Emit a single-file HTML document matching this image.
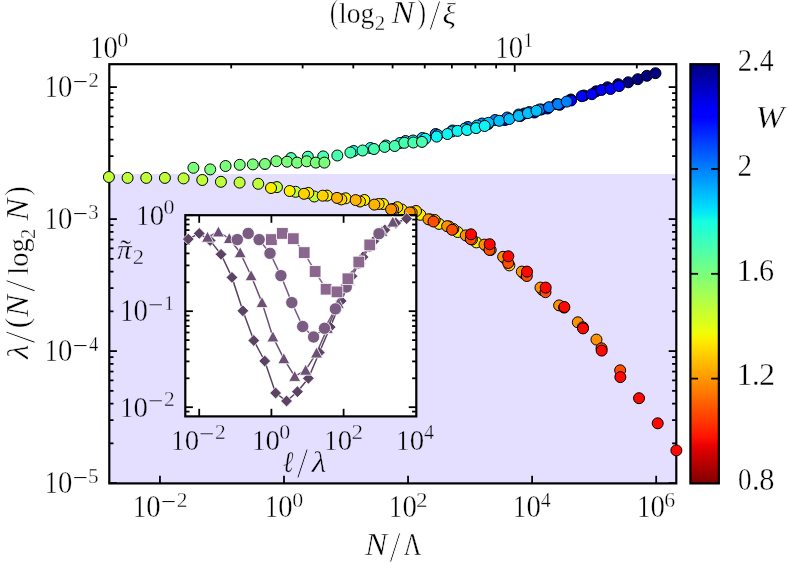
<!DOCTYPE html>
<html><head><meta charset="utf-8"><title>figure</title>
<style>html,body{margin:0;padding:0;background:#fff}svg{display:block;will-change:transform}text{font-family:"Liberation Serif",serif;font-kerning:none}</style>
</head><body>
<svg width="789" height="567" viewBox="0 0 789 567">
<defs><linearGradient id="cb" x1="0" y1="0" x2="0" y2="1"><stop offset="0.0000" stop-color="#000080"/><stop offset="0.0156" stop-color="#000092"/><stop offset="0.0312" stop-color="#0000a4"/><stop offset="0.0469" stop-color="#0000b6"/><stop offset="0.0625" stop-color="#0000c8"/><stop offset="0.0781" stop-color="#0000da"/><stop offset="0.0938" stop-color="#0000ec"/><stop offset="0.1094" stop-color="#0000fe"/><stop offset="0.1250" stop-color="#0000ff"/><stop offset="0.1406" stop-color="#0010ff"/><stop offset="0.1562" stop-color="#0020ff"/><stop offset="0.1719" stop-color="#0030ff"/><stop offset="0.1875" stop-color="#0040ff"/><stop offset="0.2031" stop-color="#0050ff"/><stop offset="0.2188" stop-color="#0060ff"/><stop offset="0.2344" stop-color="#0070ff"/><stop offset="0.2500" stop-color="#0080ff"/><stop offset="0.2656" stop-color="#008fff"/><stop offset="0.2812" stop-color="#009fff"/><stop offset="0.2969" stop-color="#00afff"/><stop offset="0.3125" stop-color="#00bfff"/><stop offset="0.3281" stop-color="#00cfff"/><stop offset="0.3438" stop-color="#00dffc"/><stop offset="0.3594" stop-color="#08efef"/><stop offset="0.3750" stop-color="#15ffe2"/><stop offset="0.3906" stop-color="#21ffd5"/><stop offset="0.4062" stop-color="#2effc9"/><stop offset="0.4219" stop-color="#3bffbc"/><stop offset="0.4375" stop-color="#48ffaf"/><stop offset="0.4531" stop-color="#55ffa2"/><stop offset="0.4688" stop-color="#62ff95"/><stop offset="0.4844" stop-color="#6fff88"/><stop offset="0.5000" stop-color="#7bff7b"/><stop offset="0.5156" stop-color="#88ff6f"/><stop offset="0.5312" stop-color="#95ff62"/><stop offset="0.5469" stop-color="#a2ff55"/><stop offset="0.5625" stop-color="#afff48"/><stop offset="0.5781" stop-color="#bcff3b"/><stop offset="0.5938" stop-color="#c9ff2e"/><stop offset="0.6094" stop-color="#d5ff21"/><stop offset="0.6250" stop-color="#e2ff15"/><stop offset="0.6406" stop-color="#effe08"/><stop offset="0.6562" stop-color="#fcf000"/><stop offset="0.6719" stop-color="#ffe100"/><stop offset="0.6875" stop-color="#ffd200"/><stop offset="0.7031" stop-color="#ffc300"/><stop offset="0.7188" stop-color="#ffb500"/><stop offset="0.7344" stop-color="#ffa600"/><stop offset="0.7500" stop-color="#ff9700"/><stop offset="0.7656" stop-color="#ff8800"/><stop offset="0.7812" stop-color="#ff7a00"/><stop offset="0.7969" stop-color="#ff6b00"/><stop offset="0.8125" stop-color="#ff5c00"/><stop offset="0.8281" stop-color="#ff4d00"/><stop offset="0.8438" stop-color="#ff3f00"/><stop offset="0.8594" stop-color="#ff3000"/><stop offset="0.8750" stop-color="#ff2100"/><stop offset="0.8906" stop-color="#fe1200"/><stop offset="0.9062" stop-color="#ec0400"/><stop offset="0.9219" stop-color="#da0000"/><stop offset="0.9375" stop-color="#c80000"/><stop offset="0.9531" stop-color="#b60000"/><stop offset="0.9688" stop-color="#a40000"/><stop offset="0.9844" stop-color="#920000"/><stop offset="1.0000" stop-color="#800000"/></linearGradient></defs>
<rect x="0" y="0" width="789" height="567" fill="#fff"/>
<rect x="109.3" y="174.0" width="567.0" height="309.4" fill="#e4dfff"/>
<rect x="109.3" y="64.2" width="567.0" height="419.2" fill="none" stroke="#000" stroke-width="2.2"/>
<line x1="159.94" y1="483.40" x2="159.94" y2="475.80" stroke="#000" stroke-width="1.8"/>
<line x1="284.00" y1="483.40" x2="284.00" y2="475.80" stroke="#000" stroke-width="1.8"/>
<line x1="408.06" y1="483.40" x2="408.06" y2="475.80" stroke="#000" stroke-width="1.8"/>
<line x1="532.12" y1="483.40" x2="532.12" y2="475.80" stroke="#000" stroke-width="1.8"/>
<line x1="656.18" y1="483.40" x2="656.18" y2="475.80" stroke="#000" stroke-width="1.8"/>
<line x1="231.20" y1="64.20" x2="231.20" y2="68.40" stroke="#000" stroke-width="1.8"/>
<line x1="302.62" y1="64.20" x2="302.62" y2="68.40" stroke="#000" stroke-width="1.8"/>
<line x1="353.30" y1="64.20" x2="353.30" y2="68.40" stroke="#000" stroke-width="1.8"/>
<line x1="392.60" y1="64.20" x2="392.60" y2="68.40" stroke="#000" stroke-width="1.8"/>
<line x1="424.72" y1="64.20" x2="424.72" y2="68.40" stroke="#000" stroke-width="1.8"/>
<line x1="451.87" y1="64.20" x2="451.87" y2="68.40" stroke="#000" stroke-width="1.8"/>
<line x1="475.39" y1="64.20" x2="475.39" y2="68.40" stroke="#000" stroke-width="1.8"/>
<line x1="496.14" y1="64.20" x2="496.14" y2="68.40" stroke="#000" stroke-width="1.8"/>
<line x1="514.70" y1="64.20" x2="514.70" y2="71.80" stroke="#000" stroke-width="1.8"/>
<line x1="636.80" y1="64.20" x2="636.80" y2="68.40" stroke="#000" stroke-width="1.8"/>
<line x1="109.30" y1="483.10" x2="116.90" y2="483.10" stroke="#000" stroke-width="1.8"/>
<line x1="676.30" y1="483.10" x2="668.70" y2="483.10" stroke="#000" stroke-width="1.8"/>
<line x1="109.30" y1="443.36" x2="113.50" y2="443.36" stroke="#000" stroke-width="1.8"/>
<line x1="676.30" y1="443.36" x2="672.10" y2="443.36" stroke="#000" stroke-width="1.8"/>
<line x1="109.30" y1="420.12" x2="113.50" y2="420.12" stroke="#000" stroke-width="1.8"/>
<line x1="676.30" y1="420.12" x2="672.10" y2="420.12" stroke="#000" stroke-width="1.8"/>
<line x1="109.30" y1="403.63" x2="113.50" y2="403.63" stroke="#000" stroke-width="1.8"/>
<line x1="676.30" y1="403.63" x2="672.10" y2="403.63" stroke="#000" stroke-width="1.8"/>
<line x1="109.30" y1="390.84" x2="113.50" y2="390.84" stroke="#000" stroke-width="1.8"/>
<line x1="676.30" y1="390.84" x2="672.10" y2="390.84" stroke="#000" stroke-width="1.8"/>
<line x1="109.30" y1="380.38" x2="113.50" y2="380.38" stroke="#000" stroke-width="1.8"/>
<line x1="676.30" y1="380.38" x2="672.10" y2="380.38" stroke="#000" stroke-width="1.8"/>
<line x1="109.30" y1="371.55" x2="113.50" y2="371.55" stroke="#000" stroke-width="1.8"/>
<line x1="676.30" y1="371.55" x2="672.10" y2="371.55" stroke="#000" stroke-width="1.8"/>
<line x1="109.30" y1="363.89" x2="113.50" y2="363.89" stroke="#000" stroke-width="1.8"/>
<line x1="676.30" y1="363.89" x2="672.10" y2="363.89" stroke="#000" stroke-width="1.8"/>
<line x1="109.30" y1="357.14" x2="113.50" y2="357.14" stroke="#000" stroke-width="1.8"/>
<line x1="676.30" y1="357.14" x2="672.10" y2="357.14" stroke="#000" stroke-width="1.8"/>
<line x1="109.30" y1="351.10" x2="116.90" y2="351.10" stroke="#000" stroke-width="1.8"/>
<line x1="676.30" y1="351.10" x2="668.70" y2="351.10" stroke="#000" stroke-width="1.8"/>
<line x1="109.30" y1="311.36" x2="113.50" y2="311.36" stroke="#000" stroke-width="1.8"/>
<line x1="676.30" y1="311.36" x2="672.10" y2="311.36" stroke="#000" stroke-width="1.8"/>
<line x1="109.30" y1="288.12" x2="113.50" y2="288.12" stroke="#000" stroke-width="1.8"/>
<line x1="676.30" y1="288.12" x2="672.10" y2="288.12" stroke="#000" stroke-width="1.8"/>
<line x1="109.30" y1="271.63" x2="113.50" y2="271.63" stroke="#000" stroke-width="1.8"/>
<line x1="676.30" y1="271.63" x2="672.10" y2="271.63" stroke="#000" stroke-width="1.8"/>
<line x1="109.30" y1="258.84" x2="113.50" y2="258.84" stroke="#000" stroke-width="1.8"/>
<line x1="676.30" y1="258.84" x2="672.10" y2="258.84" stroke="#000" stroke-width="1.8"/>
<line x1="109.30" y1="248.38" x2="113.50" y2="248.38" stroke="#000" stroke-width="1.8"/>
<line x1="676.30" y1="248.38" x2="672.10" y2="248.38" stroke="#000" stroke-width="1.8"/>
<line x1="109.30" y1="239.55" x2="113.50" y2="239.55" stroke="#000" stroke-width="1.8"/>
<line x1="676.30" y1="239.55" x2="672.10" y2="239.55" stroke="#000" stroke-width="1.8"/>
<line x1="109.30" y1="231.89" x2="113.50" y2="231.89" stroke="#000" stroke-width="1.8"/>
<line x1="676.30" y1="231.89" x2="672.10" y2="231.89" stroke="#000" stroke-width="1.8"/>
<line x1="109.30" y1="225.14" x2="113.50" y2="225.14" stroke="#000" stroke-width="1.8"/>
<line x1="676.30" y1="225.14" x2="672.10" y2="225.14" stroke="#000" stroke-width="1.8"/>
<line x1="109.30" y1="219.10" x2="116.90" y2="219.10" stroke="#000" stroke-width="1.8"/>
<line x1="676.30" y1="219.10" x2="668.70" y2="219.10" stroke="#000" stroke-width="1.8"/>
<line x1="109.30" y1="179.36" x2="113.50" y2="179.36" stroke="#000" stroke-width="1.8"/>
<line x1="676.30" y1="179.36" x2="672.10" y2="179.36" stroke="#000" stroke-width="1.8"/>
<line x1="109.30" y1="156.12" x2="113.50" y2="156.12" stroke="#000" stroke-width="1.8"/>
<line x1="676.30" y1="156.12" x2="672.10" y2="156.12" stroke="#000" stroke-width="1.8"/>
<line x1="109.30" y1="139.63" x2="113.50" y2="139.63" stroke="#000" stroke-width="1.8"/>
<line x1="676.30" y1="139.63" x2="672.10" y2="139.63" stroke="#000" stroke-width="1.8"/>
<line x1="109.30" y1="126.84" x2="113.50" y2="126.84" stroke="#000" stroke-width="1.8"/>
<line x1="676.30" y1="126.84" x2="672.10" y2="126.84" stroke="#000" stroke-width="1.8"/>
<line x1="109.30" y1="116.38" x2="113.50" y2="116.38" stroke="#000" stroke-width="1.8"/>
<line x1="676.30" y1="116.38" x2="672.10" y2="116.38" stroke="#000" stroke-width="1.8"/>
<line x1="109.30" y1="107.55" x2="113.50" y2="107.55" stroke="#000" stroke-width="1.8"/>
<line x1="676.30" y1="107.55" x2="672.10" y2="107.55" stroke="#000" stroke-width="1.8"/>
<line x1="109.30" y1="99.89" x2="113.50" y2="99.89" stroke="#000" stroke-width="1.8"/>
<line x1="676.30" y1="99.89" x2="672.10" y2="99.89" stroke="#000" stroke-width="1.8"/>
<line x1="109.30" y1="93.14" x2="113.50" y2="93.14" stroke="#000" stroke-width="1.8"/>
<line x1="676.30" y1="93.14" x2="672.10" y2="93.14" stroke="#000" stroke-width="1.8"/>
<line x1="109.30" y1="87.10" x2="116.90" y2="87.10" stroke="#000" stroke-width="1.8"/>
<line x1="676.30" y1="87.10" x2="668.70" y2="87.10" stroke="#000" stroke-width="1.8"/>
<circle cx="524.50" cy="113.50" r="5.5" fill="#000080" stroke="#000" stroke-width="1"/>
<circle cx="541.33" cy="109.50" r="5.5" fill="#000080" stroke="#000" stroke-width="1"/>
<circle cx="556.69" cy="104.00" r="5.5" fill="#000080" stroke="#000" stroke-width="1"/>
<circle cx="570.82" cy="99.50" r="5.5" fill="#000080" stroke="#000" stroke-width="1"/>
<circle cx="583.90" cy="95.50" r="5.5" fill="#000080" stroke="#000" stroke-width="1"/>
<circle cx="596.08" cy="91.30" r="5.5" fill="#000080" stroke="#000" stroke-width="1"/>
<circle cx="607.47" cy="87.30" r="5.5" fill="#000080" stroke="#000" stroke-width="1"/>
<circle cx="618.18" cy="84.20" r="5.5" fill="#000080" stroke="#000" stroke-width="1"/>
<circle cx="628.27" cy="82.30" r="5.5" fill="#000080" stroke="#000" stroke-width="1"/>
<circle cx="637.81" cy="79.20" r="5.5" fill="#000080" stroke="#000" stroke-width="1"/>
<circle cx="646.87" cy="75.80" r="5.5" fill="#000080" stroke="#000" stroke-width="1"/>
<circle cx="655.48" cy="73.20" r="5.5" fill="#000080" stroke="#000" stroke-width="1"/>
<circle cx="488.10" cy="124.00" r="5.5" fill="#0000ff" stroke="#000" stroke-width="1"/>
<circle cx="504.93" cy="120.00" r="5.5" fill="#0000ff" stroke="#000" stroke-width="1"/>
<circle cx="520.29" cy="116.00" r="5.5" fill="#0000ff" stroke="#000" stroke-width="1"/>
<circle cx="534.42" cy="112.50" r="5.5" fill="#0000ff" stroke="#000" stroke-width="1"/>
<circle cx="547.50" cy="108.50" r="5.5" fill="#0000ff" stroke="#000" stroke-width="1"/>
<circle cx="559.68" cy="104.80" r="5.5" fill="#0000ff" stroke="#000" stroke-width="1"/>
<circle cx="571.07" cy="100.50" r="5.5" fill="#0000ff" stroke="#000" stroke-width="1"/>
<circle cx="581.78" cy="96.20" r="5.5" fill="#0000ff" stroke="#000" stroke-width="1"/>
<circle cx="591.87" cy="94.20" r="5.5" fill="#0000ff" stroke="#000" stroke-width="1"/>
<circle cx="601.41" cy="90.00" r="5.5" fill="#0000ff" stroke="#000" stroke-width="1"/>
<circle cx="610.47" cy="89.00" r="5.5" fill="#0000ff" stroke="#000" stroke-width="1"/>
<circle cx="619.08" cy="86.10" r="5.5" fill="#0000ff" stroke="#000" stroke-width="1"/>
<circle cx="435.70" cy="134.00" r="5.5" fill="#007fff" stroke="#000" stroke-width="1"/>
<circle cx="452.53" cy="130.50" r="5.5" fill="#007fff" stroke="#000" stroke-width="1"/>
<circle cx="467.89" cy="127.00" r="5.5" fill="#007fff" stroke="#000" stroke-width="1"/>
<circle cx="482.02" cy="123.50" r="5.5" fill="#007fff" stroke="#000" stroke-width="1"/>
<circle cx="495.10" cy="120.00" r="5.5" fill="#007fff" stroke="#000" stroke-width="1"/>
<circle cx="507.28" cy="117.50" r="5.5" fill="#007fff" stroke="#000" stroke-width="1"/>
<circle cx="518.67" cy="114.50" r="5.5" fill="#007fff" stroke="#000" stroke-width="1"/>
<circle cx="529.38" cy="112.00" r="5.5" fill="#007fff" stroke="#000" stroke-width="1"/>
<circle cx="539.47" cy="109.50" r="5.5" fill="#007fff" stroke="#000" stroke-width="1"/>
<circle cx="549.01" cy="107.20" r="5.5" fill="#007fff" stroke="#000" stroke-width="1"/>
<circle cx="558.07" cy="104.20" r="5.5" fill="#007fff" stroke="#000" stroke-width="1"/>
<circle cx="566.68" cy="101.60" r="5.5" fill="#007fff" stroke="#000" stroke-width="1"/>
<circle cx="405.50" cy="141.00" r="5.5" fill="#00bfff" stroke="#000" stroke-width="1"/>
<circle cx="422.33" cy="138.00" r="5.5" fill="#00bfff" stroke="#000" stroke-width="1"/>
<circle cx="437.69" cy="135.00" r="5.5" fill="#00bfff" stroke="#000" stroke-width="1"/>
<circle cx="451.82" cy="131.50" r="5.5" fill="#00bfff" stroke="#000" stroke-width="1"/>
<circle cx="464.90" cy="128.50" r="5.5" fill="#00bfff" stroke="#000" stroke-width="1"/>
<circle cx="477.08" cy="125.50" r="5.5" fill="#00bfff" stroke="#000" stroke-width="1"/>
<circle cx="488.47" cy="122.80" r="5.5" fill="#00bfff" stroke="#000" stroke-width="1"/>
<circle cx="499.18" cy="120.80" r="5.5" fill="#00bfff" stroke="#000" stroke-width="1"/>
<circle cx="509.27" cy="119.00" r="5.5" fill="#00bfff" stroke="#000" stroke-width="1"/>
<circle cx="518.81" cy="115.90" r="5.5" fill="#00bfff" stroke="#000" stroke-width="1"/>
<circle cx="527.87" cy="113.10" r="5.5" fill="#00bfff" stroke="#000" stroke-width="1"/>
<circle cx="536.48" cy="110.80" r="5.5" fill="#00bfff" stroke="#000" stroke-width="1"/>
<circle cx="353.70" cy="151.00" r="5.5" fill="#0cf4f4" stroke="#000" stroke-width="1"/>
<circle cx="370.53" cy="148.00" r="5.5" fill="#0cf4f4" stroke="#000" stroke-width="1"/>
<circle cx="385.89" cy="145.50" r="5.5" fill="#0cf4f4" stroke="#000" stroke-width="1"/>
<circle cx="400.02" cy="143.00" r="5.5" fill="#0cf4f4" stroke="#000" stroke-width="1"/>
<circle cx="413.10" cy="140.50" r="5.5" fill="#0cf4f4" stroke="#000" stroke-width="1"/>
<circle cx="425.28" cy="138.70" r="5.5" fill="#0cf4f4" stroke="#000" stroke-width="1"/>
<circle cx="436.67" cy="136.60" r="5.5" fill="#0cf4f4" stroke="#000" stroke-width="1"/>
<circle cx="447.38" cy="134.00" r="5.5" fill="#0cf4f4" stroke="#000" stroke-width="1"/>
<circle cx="457.47" cy="130.90" r="5.5" fill="#0cf4f4" stroke="#000" stroke-width="1"/>
<circle cx="467.01" cy="130.00" r="5.5" fill="#0cf4f4" stroke="#000" stroke-width="1"/>
<circle cx="476.07" cy="128.10" r="5.5" fill="#0cf4f4" stroke="#000" stroke-width="1"/>
<circle cx="484.68" cy="126.00" r="5.5" fill="#0cf4f4" stroke="#000" stroke-width="1"/>
<circle cx="291.00" cy="158.10" r="5.5" fill="#48ffaf" stroke="#000" stroke-width="1"/>
<circle cx="307.83" cy="156.70" r="5.5" fill="#48ffaf" stroke="#000" stroke-width="1"/>
<circle cx="323.19" cy="156.40" r="5.5" fill="#48ffaf" stroke="#000" stroke-width="1"/>
<circle cx="337.32" cy="155.50" r="5.5" fill="#48ffaf" stroke="#000" stroke-width="1"/>
<circle cx="350.40" cy="152.50" r="5.5" fill="#48ffaf" stroke="#000" stroke-width="1"/>
<circle cx="362.58" cy="150.50" r="5.5" fill="#48ffaf" stroke="#000" stroke-width="1"/>
<circle cx="373.97" cy="149.00" r="5.5" fill="#48ffaf" stroke="#000" stroke-width="1"/>
<circle cx="384.68" cy="146.90" r="5.5" fill="#48ffaf" stroke="#000" stroke-width="1"/>
<circle cx="394.77" cy="146.00" r="5.5" fill="#48ffaf" stroke="#000" stroke-width="1"/>
<circle cx="404.31" cy="142.80" r="5.5" fill="#48ffaf" stroke="#000" stroke-width="1"/>
<circle cx="413.37" cy="142.50" r="5.5" fill="#48ffaf" stroke="#000" stroke-width="1"/>
<circle cx="421.98" cy="141.90" r="5.5" fill="#48ffaf" stroke="#000" stroke-width="1"/>
<circle cx="193.40" cy="167.80" r="5.5" fill="#7bff7b" stroke="#000" stroke-width="1"/>
<circle cx="210.23" cy="169.40" r="5.5" fill="#7bff7b" stroke="#000" stroke-width="1"/>
<circle cx="225.59" cy="166.00" r="5.5" fill="#7bff7b" stroke="#000" stroke-width="1"/>
<circle cx="239.72" cy="164.80" r="5.5" fill="#7bff7b" stroke="#000" stroke-width="1"/>
<circle cx="252.80" cy="164.40" r="5.5" fill="#7bff7b" stroke="#000" stroke-width="1"/>
<circle cx="264.98" cy="164.00" r="5.5" fill="#7bff7b" stroke="#000" stroke-width="1"/>
<circle cx="276.37" cy="161.20" r="5.5" fill="#7bff7b" stroke="#000" stroke-width="1"/>
<circle cx="287.08" cy="161.70" r="5.5" fill="#7bff7b" stroke="#000" stroke-width="1"/>
<circle cx="297.17" cy="162.60" r="5.5" fill="#7bff7b" stroke="#000" stroke-width="1"/>
<circle cx="306.71" cy="161.30" r="5.5" fill="#7bff7b" stroke="#000" stroke-width="1"/>
<circle cx="315.77" cy="162.60" r="5.5" fill="#7bff7b" stroke="#000" stroke-width="1"/>
<circle cx="324.38" cy="162.60" r="5.5" fill="#7bff7b" stroke="#000" stroke-width="1"/>
<circle cx="108.90" cy="177.00" r="5.5" fill="#beff39" stroke="#000" stroke-width="1"/>
<circle cx="127.57" cy="177.90" r="5.5" fill="#beff39" stroke="#000" stroke-width="1"/>
<circle cx="146.24" cy="177.90" r="5.5" fill="#beff39" stroke="#000" stroke-width="1"/>
<circle cx="164.91" cy="177.90" r="5.5" fill="#beff39" stroke="#000" stroke-width="1"/>
<circle cx="183.58" cy="178.40" r="5.5" fill="#beff39" stroke="#000" stroke-width="1"/>
<circle cx="202.25" cy="180.00" r="5.5" fill="#beff39" stroke="#000" stroke-width="1"/>
<circle cx="220.92" cy="181.80" r="5.5" fill="#beff39" stroke="#000" stroke-width="1"/>
<circle cx="239.59" cy="182.60" r="5.5" fill="#beff39" stroke="#000" stroke-width="1"/>
<circle cx="258.26" cy="183.80" r="5.5" fill="#beff39" stroke="#000" stroke-width="1"/>
<circle cx="276.93" cy="187.10" r="5.5" fill="#beff39" stroke="#000" stroke-width="1"/>
<circle cx="295.60" cy="191.80" r="5.5" fill="#beff39" stroke="#000" stroke-width="1"/>
<circle cx="314.27" cy="196.50" r="5.5" fill="#beff39" stroke="#000" stroke-width="1"/>
<circle cx="271.00" cy="188.00" r="5.5" fill="#fcf000" stroke="#000" stroke-width="1"/>
<circle cx="289.67" cy="191.00" r="5.5" fill="#fcf000" stroke="#000" stroke-width="1"/>
<circle cx="308.34" cy="192.90" r="5.5" fill="#fcf000" stroke="#000" stroke-width="1"/>
<circle cx="327.01" cy="195.60" r="5.5" fill="#fcf000" stroke="#000" stroke-width="1"/>
<circle cx="345.68" cy="198.30" r="5.5" fill="#fcf000" stroke="#000" stroke-width="1"/>
<circle cx="364.35" cy="200.00" r="5.5" fill="#fcf000" stroke="#000" stroke-width="1"/>
<circle cx="383.02" cy="204.00" r="5.5" fill="#fcf000" stroke="#000" stroke-width="1"/>
<circle cx="401.69" cy="209.50" r="5.5" fill="#fcf000" stroke="#000" stroke-width="1"/>
<circle cx="420.36" cy="214.80" r="5.5" fill="#fcf000" stroke="#000" stroke-width="1"/>
<circle cx="439.03" cy="223.90" r="5.5" fill="#fcf000" stroke="#000" stroke-width="1"/>
<circle cx="457.70" cy="232.00" r="5.5" fill="#fcf000" stroke="#000" stroke-width="1"/>
<circle cx="476.37" cy="242.40" r="5.5" fill="#fcf000" stroke="#000" stroke-width="1"/>
<circle cx="304.00" cy="193.80" r="5.5" fill="#ffd200" stroke="#000" stroke-width="1"/>
<circle cx="322.67" cy="195.70" r="5.5" fill="#ffd200" stroke="#000" stroke-width="1"/>
<circle cx="341.34" cy="199.40" r="5.5" fill="#ffd200" stroke="#000" stroke-width="1"/>
<circle cx="360.01" cy="201.50" r="5.5" fill="#ffd200" stroke="#000" stroke-width="1"/>
<circle cx="378.68" cy="204.00" r="5.5" fill="#ffd200" stroke="#000" stroke-width="1"/>
<circle cx="397.35" cy="207.20" r="5.5" fill="#ffd200" stroke="#000" stroke-width="1"/>
<circle cx="416.02" cy="211.00" r="5.5" fill="#ffd200" stroke="#000" stroke-width="1"/>
<circle cx="434.69" cy="220.00" r="5.5" fill="#ffd200" stroke="#000" stroke-width="1"/>
<circle cx="453.36" cy="229.00" r="5.5" fill="#ffd200" stroke="#000" stroke-width="1"/>
<circle cx="472.03" cy="239.50" r="5.5" fill="#ffd200" stroke="#000" stroke-width="1"/>
<circle cx="490.70" cy="250.00" r="5.5" fill="#ffd200" stroke="#000" stroke-width="1"/>
<circle cx="509.37" cy="265.40" r="5.5" fill="#ffd200" stroke="#000" stroke-width="1"/>
<circle cx="337.00" cy="197.90" r="5.5" fill="#ffb500" stroke="#000" stroke-width="1"/>
<circle cx="355.67" cy="200.10" r="5.5" fill="#ffb500" stroke="#000" stroke-width="1"/>
<circle cx="374.34" cy="204.60" r="5.5" fill="#ffb500" stroke="#000" stroke-width="1"/>
<circle cx="393.01" cy="209.00" r="5.5" fill="#ffb500" stroke="#000" stroke-width="1"/>
<circle cx="411.68" cy="212.50" r="5.5" fill="#ffb500" stroke="#000" stroke-width="1"/>
<circle cx="430.35" cy="219.50" r="5.5" fill="#ffb500" stroke="#000" stroke-width="1"/>
<circle cx="449.02" cy="226.50" r="5.5" fill="#ffb500" stroke="#000" stroke-width="1"/>
<circle cx="467.69" cy="236.00" r="5.5" fill="#ffb500" stroke="#000" stroke-width="1"/>
<circle cx="486.36" cy="246.00" r="5.5" fill="#ffb500" stroke="#000" stroke-width="1"/>
<circle cx="505.03" cy="258.50" r="5.5" fill="#ffb500" stroke="#000" stroke-width="1"/>
<circle cx="523.70" cy="273.50" r="5.5" fill="#ffb500" stroke="#000" stroke-width="1"/>
<circle cx="542.37" cy="290.00" r="5.5" fill="#ffb500" stroke="#000" stroke-width="1"/>
<circle cx="391.10" cy="209.40" r="5.5" fill="#ff9000" stroke="#000" stroke-width="1"/>
<circle cx="409.77" cy="212.40" r="5.5" fill="#ff9000" stroke="#000" stroke-width="1"/>
<circle cx="428.44" cy="219.30" r="5.5" fill="#ff9000" stroke="#000" stroke-width="1"/>
<circle cx="447.11" cy="226.20" r="5.5" fill="#ff9000" stroke="#000" stroke-width="1"/>
<circle cx="465.78" cy="235.40" r="5.5" fill="#ff9000" stroke="#000" stroke-width="1"/>
<circle cx="484.45" cy="244.60" r="5.5" fill="#ff9000" stroke="#000" stroke-width="1"/>
<circle cx="503.12" cy="256.80" r="5.5" fill="#ff9000" stroke="#000" stroke-width="1"/>
<circle cx="521.79" cy="271.60" r="5.5" fill="#ff9000" stroke="#000" stroke-width="1"/>
<circle cx="540.46" cy="287.60" r="5.5" fill="#ff9000" stroke="#000" stroke-width="1"/>
<circle cx="559.13" cy="305.40" r="5.5" fill="#ff9000" stroke="#000" stroke-width="1"/>
<circle cx="577.80" cy="322.30" r="5.5" fill="#ff9000" stroke="#000" stroke-width="1"/>
<circle cx="596.47" cy="339.60" r="5.5" fill="#ff9000" stroke="#000" stroke-width="1"/>
<circle cx="433.47" cy="221.50" r="5.5" fill="#ff4c00" stroke="#000" stroke-width="1"/>
<circle cx="452.14" cy="229.80" r="5.5" fill="#ff4c00" stroke="#000" stroke-width="1"/>
<circle cx="470.81" cy="239.10" r="5.5" fill="#ff4c00" stroke="#000" stroke-width="1"/>
<circle cx="489.48" cy="249.90" r="5.5" fill="#ff4c00" stroke="#000" stroke-width="1"/>
<circle cx="508.15" cy="263.00" r="5.5" fill="#ff4c00" stroke="#000" stroke-width="1"/>
<circle cx="526.82" cy="276.00" r="5.5" fill="#ff4c00" stroke="#000" stroke-width="1"/>
<circle cx="545.49" cy="292.20" r="5.5" fill="#ff4c00" stroke="#000" stroke-width="1"/>
<circle cx="564.16" cy="307.60" r="5.5" fill="#ff4c00" stroke="#000" stroke-width="1"/>
<circle cx="582.83" cy="327.30" r="5.5" fill="#ff4c00" stroke="#000" stroke-width="1"/>
<circle cx="601.50" cy="348.30" r="5.5" fill="#ff4c00" stroke="#000" stroke-width="1"/>
<circle cx="620.17" cy="370.30" r="5.5" fill="#ff4c00" stroke="#000" stroke-width="1"/>
<circle cx="471.00" cy="234.30" r="5.5" fill="#ff0800" stroke="#000" stroke-width="1"/>
<circle cx="489.67" cy="244.20" r="5.5" fill="#ff0800" stroke="#000" stroke-width="1"/>
<circle cx="508.34" cy="256.30" r="5.5" fill="#ff0800" stroke="#000" stroke-width="1"/>
<circle cx="527.01" cy="271.60" r="5.5" fill="#ff0800" stroke="#000" stroke-width="1"/>
<circle cx="545.68" cy="287.60" r="5.5" fill="#ff0800" stroke="#000" stroke-width="1"/>
<circle cx="564.35" cy="307.00" r="5.5" fill="#ff0800" stroke="#000" stroke-width="1"/>
<circle cx="583.02" cy="328.40" r="5.5" fill="#ff0800" stroke="#000" stroke-width="1"/>
<circle cx="601.69" cy="350.60" r="5.5" fill="#ff0800" stroke="#000" stroke-width="1"/>
<circle cx="620.36" cy="377.10" r="5.5" fill="#ff0800" stroke="#000" stroke-width="1"/>
<circle cx="639.03" cy="398.20" r="5.5" fill="#ff0800" stroke="#000" stroke-width="1"/>
<circle cx="657.70" cy="423.30" r="5.5" fill="#ff0800" stroke="#000" stroke-width="1"/>
<circle cx="676.37" cy="450.40" r="5.5" fill="#ff0800" stroke="#000" stroke-width="1"/>
<rect x="185.3" y="215.2" width="231.0" height="201.2" fill="#fff"/>
<rect x="185.3" y="215.2" width="231.0" height="201.2" fill="none" stroke="#000" stroke-width="2.2"/>
<line x1="199.20" y1="215.20" x2="199.20" y2="222.80" stroke="#000" stroke-width="1.8"/>
<line x1="199.20" y1="416.40" x2="199.20" y2="408.80" stroke="#000" stroke-width="1.8"/>
<line x1="271.40" y1="215.20" x2="271.40" y2="222.80" stroke="#000" stroke-width="1.8"/>
<line x1="271.40" y1="416.40" x2="271.40" y2="408.80" stroke="#000" stroke-width="1.8"/>
<line x1="343.60" y1="215.20" x2="343.60" y2="222.80" stroke="#000" stroke-width="1.8"/>
<line x1="343.60" y1="416.40" x2="343.60" y2="408.80" stroke="#000" stroke-width="1.8"/>
<line x1="185.30" y1="215.20" x2="192.90" y2="215.20" stroke="#000" stroke-width="1.8"/>
<line x1="416.30" y1="215.20" x2="408.70" y2="215.20" stroke="#000" stroke-width="1.8"/>
<line x1="185.30" y1="311.20" x2="192.90" y2="311.20" stroke="#000" stroke-width="1.8"/>
<line x1="416.30" y1="311.20" x2="408.70" y2="311.20" stroke="#000" stroke-width="1.8"/>
<line x1="185.30" y1="282.30" x2="189.50" y2="282.30" stroke="#000" stroke-width="1.8"/>
<line x1="416.30" y1="282.30" x2="412.10" y2="282.30" stroke="#000" stroke-width="1.8"/>
<line x1="185.30" y1="265.40" x2="189.50" y2="265.40" stroke="#000" stroke-width="1.8"/>
<line x1="416.30" y1="265.40" x2="412.10" y2="265.40" stroke="#000" stroke-width="1.8"/>
<line x1="185.30" y1="253.40" x2="189.50" y2="253.40" stroke="#000" stroke-width="1.8"/>
<line x1="416.30" y1="253.40" x2="412.10" y2="253.40" stroke="#000" stroke-width="1.8"/>
<line x1="185.30" y1="244.10" x2="189.50" y2="244.10" stroke="#000" stroke-width="1.8"/>
<line x1="416.30" y1="244.10" x2="412.10" y2="244.10" stroke="#000" stroke-width="1.8"/>
<line x1="185.30" y1="236.50" x2="189.50" y2="236.50" stroke="#000" stroke-width="1.8"/>
<line x1="416.30" y1="236.50" x2="412.10" y2="236.50" stroke="#000" stroke-width="1.8"/>
<line x1="185.30" y1="230.07" x2="189.50" y2="230.07" stroke="#000" stroke-width="1.8"/>
<line x1="416.30" y1="230.07" x2="412.10" y2="230.07" stroke="#000" stroke-width="1.8"/>
<line x1="185.30" y1="224.50" x2="189.50" y2="224.50" stroke="#000" stroke-width="1.8"/>
<line x1="416.30" y1="224.50" x2="412.10" y2="224.50" stroke="#000" stroke-width="1.8"/>
<line x1="185.30" y1="219.59" x2="189.50" y2="219.59" stroke="#000" stroke-width="1.8"/>
<line x1="416.30" y1="219.59" x2="412.10" y2="219.59" stroke="#000" stroke-width="1.8"/>
<line x1="185.30" y1="407.20" x2="192.90" y2="407.20" stroke="#000" stroke-width="1.8"/>
<line x1="416.30" y1="407.20" x2="408.70" y2="407.20" stroke="#000" stroke-width="1.8"/>
<line x1="185.30" y1="378.30" x2="189.50" y2="378.30" stroke="#000" stroke-width="1.8"/>
<line x1="416.30" y1="378.30" x2="412.10" y2="378.30" stroke="#000" stroke-width="1.8"/>
<line x1="185.30" y1="361.40" x2="189.50" y2="361.40" stroke="#000" stroke-width="1.8"/>
<line x1="416.30" y1="361.40" x2="412.10" y2="361.40" stroke="#000" stroke-width="1.8"/>
<line x1="185.30" y1="349.40" x2="189.50" y2="349.40" stroke="#000" stroke-width="1.8"/>
<line x1="416.30" y1="349.40" x2="412.10" y2="349.40" stroke="#000" stroke-width="1.8"/>
<line x1="185.30" y1="340.10" x2="189.50" y2="340.10" stroke="#000" stroke-width="1.8"/>
<line x1="416.30" y1="340.10" x2="412.10" y2="340.10" stroke="#000" stroke-width="1.8"/>
<line x1="185.30" y1="332.50" x2="189.50" y2="332.50" stroke="#000" stroke-width="1.8"/>
<line x1="416.30" y1="332.50" x2="412.10" y2="332.50" stroke="#000" stroke-width="1.8"/>
<line x1="185.30" y1="326.07" x2="189.50" y2="326.07" stroke="#000" stroke-width="1.8"/>
<line x1="416.30" y1="326.07" x2="412.10" y2="326.07" stroke="#000" stroke-width="1.8"/>
<line x1="185.30" y1="320.50" x2="189.50" y2="320.50" stroke="#000" stroke-width="1.8"/>
<line x1="416.30" y1="320.50" x2="412.10" y2="320.50" stroke="#000" stroke-width="1.8"/>
<line x1="185.30" y1="315.59" x2="189.50" y2="315.59" stroke="#000" stroke-width="1.8"/>
<line x1="416.30" y1="315.59" x2="412.10" y2="315.59" stroke="#000" stroke-width="1.8"/>
<line x1="185.30" y1="411.59" x2="189.50" y2="411.59" stroke="#000" stroke-width="1.8"/>
<line x1="416.30" y1="411.59" x2="412.10" y2="411.59" stroke="#000" stroke-width="1.8"/>
<polyline fill="none" stroke="#5b4364" stroke-width="1.5" points="188.30,239.10 199.22,233.40 210.13,240.50 221.05,254.30 231.96,277.40 242.88,310.80 253.79,340.50 264.71,361.00 275.62,393.00 286.53,401.00 297.45,391.70 308.37,378.30 319.28,352.50 330.19,327.10 341.11,300.90 352.02,276.20 362.94,257.00 373.86,241.00 384.77,230.00 395.69,223.00 406.60,218.70"/>
<path d="M188.30,233.20L194.20,239.10L188.30,245.00L182.40,239.10Z" fill="#5b4364" stroke="#fff" stroke-width="0.8"/>
<path d="M199.22,227.50L205.12,233.40L199.22,239.30L193.31,233.40Z" fill="#5b4364" stroke="#fff" stroke-width="0.8"/>
<path d="M210.13,234.60L216.03,240.50L210.13,246.40L204.23,240.50Z" fill="#5b4364" stroke="#fff" stroke-width="0.8"/>
<path d="M221.05,248.40L226.95,254.30L221.05,260.20L215.15,254.30Z" fill="#5b4364" stroke="#fff" stroke-width="0.8"/>
<path d="M231.96,271.50L237.86,277.40L231.96,283.30L226.06,277.40Z" fill="#5b4364" stroke="#fff" stroke-width="0.8"/>
<path d="M242.88,304.90L248.78,310.80L242.88,316.70L236.97,310.80Z" fill="#5b4364" stroke="#fff" stroke-width="0.8"/>
<path d="M253.79,334.60L259.69,340.50L253.79,346.40L247.89,340.50Z" fill="#5b4364" stroke="#fff" stroke-width="0.8"/>
<path d="M264.71,355.10L270.61,361.00L264.71,366.90L258.81,361.00Z" fill="#5b4364" stroke="#fff" stroke-width="0.8"/>
<path d="M275.62,387.10L281.52,393.00L275.62,398.90L269.72,393.00Z" fill="#5b4364" stroke="#fff" stroke-width="0.8"/>
<path d="M286.53,395.10L292.43,401.00L286.53,406.90L280.63,401.00Z" fill="#5b4364" stroke="#fff" stroke-width="0.8"/>
<path d="M297.45,385.80L303.35,391.70L297.45,397.60L291.55,391.70Z" fill="#5b4364" stroke="#fff" stroke-width="0.8"/>
<path d="M308.37,372.40L314.26,378.30L308.37,384.20L302.47,378.30Z" fill="#5b4364" stroke="#fff" stroke-width="0.8"/>
<path d="M319.28,346.60L325.18,352.50L319.28,358.40L313.38,352.50Z" fill="#5b4364" stroke="#fff" stroke-width="0.8"/>
<path d="M330.19,321.20L336.09,327.10L330.19,333.00L324.30,327.10Z" fill="#5b4364" stroke="#fff" stroke-width="0.8"/>
<path d="M341.11,295.00L347.01,300.90L341.11,306.80L335.21,300.90Z" fill="#5b4364" stroke="#fff" stroke-width="0.8"/>
<path d="M352.02,270.30L357.92,276.20L352.02,282.10L346.12,276.20Z" fill="#5b4364" stroke="#fff" stroke-width="0.8"/>
<path d="M362.94,251.10L368.84,257.00L362.94,262.90L357.04,257.00Z" fill="#5b4364" stroke="#fff" stroke-width="0.8"/>
<path d="M373.86,235.10L379.75,241.00L373.86,246.90L367.96,241.00Z" fill="#5b4364" stroke="#fff" stroke-width="0.8"/>
<path d="M384.77,224.10L390.67,230.00L384.77,235.90L378.87,230.00Z" fill="#5b4364" stroke="#fff" stroke-width="0.8"/>
<path d="M395.69,217.10L401.58,223.00L395.69,228.90L389.79,223.00Z" fill="#5b4364" stroke="#fff" stroke-width="0.8"/>
<path d="M406.60,212.80L412.50,218.70L406.60,224.60L400.70,218.70Z" fill="#5b4364" stroke="#fff" stroke-width="0.8"/>
<polyline fill="none" stroke="#6c5075" stroke-width="1.5" points="207.50,237.20 218.40,231.90 229.30,238.50 240.20,252.70 251.10,275.70 262.00,302.60 272.90,336.90 283.80,358.70 294.70,376.40 305.60,370.20 316.50,353.00 327.40,328.40 338.30,303.40 349.20,280.40 360.10,259.40 371.00,243.90 381.90,231.40 392.80,222.10"/>
<path d="M207.50,231.20L213.50,242.20L201.50,242.20Z" fill="#6c5075" stroke="#fff" stroke-width="0.8"/>
<path d="M218.40,225.90L224.40,236.90L212.40,236.90Z" fill="#6c5075" stroke="#fff" stroke-width="0.8"/>
<path d="M229.30,232.50L235.30,243.50L223.30,243.50Z" fill="#6c5075" stroke="#fff" stroke-width="0.8"/>
<path d="M240.20,246.70L246.20,257.70L234.20,257.70Z" fill="#6c5075" stroke="#fff" stroke-width="0.8"/>
<path d="M251.10,269.70L257.10,280.70L245.10,280.70Z" fill="#6c5075" stroke="#fff" stroke-width="0.8"/>
<path d="M262.00,296.60L268.00,307.60L256.00,307.60Z" fill="#6c5075" stroke="#fff" stroke-width="0.8"/>
<path d="M272.90,330.90L278.90,341.90L266.90,341.90Z" fill="#6c5075" stroke="#fff" stroke-width="0.8"/>
<path d="M283.80,352.70L289.80,363.70L277.80,363.70Z" fill="#6c5075" stroke="#fff" stroke-width="0.8"/>
<path d="M294.70,370.40L300.70,381.40L288.70,381.40Z" fill="#6c5075" stroke="#fff" stroke-width="0.8"/>
<path d="M305.60,364.20L311.60,375.20L299.60,375.20Z" fill="#6c5075" stroke="#fff" stroke-width="0.8"/>
<path d="M316.50,347.00L322.50,358.00L310.50,358.00Z" fill="#6c5075" stroke="#fff" stroke-width="0.8"/>
<path d="M327.40,322.40L333.40,333.40L321.40,333.40Z" fill="#6c5075" stroke="#fff" stroke-width="0.8"/>
<path d="M338.30,297.40L344.30,308.40L332.30,308.40Z" fill="#6c5075" stroke="#fff" stroke-width="0.8"/>
<path d="M349.20,274.40L355.20,285.40L343.20,285.40Z" fill="#6c5075" stroke="#fff" stroke-width="0.8"/>
<path d="M360.10,253.40L366.10,264.40L354.10,264.40Z" fill="#6c5075" stroke="#fff" stroke-width="0.8"/>
<path d="M371.00,237.90L377.00,248.90L365.00,248.90Z" fill="#6c5075" stroke="#fff" stroke-width="0.8"/>
<path d="M381.90,225.40L387.90,236.40L375.90,236.40Z" fill="#6c5075" stroke="#fff" stroke-width="0.8"/>
<path d="M392.80,216.10L398.80,227.10L386.80,227.10Z" fill="#6c5075" stroke="#fff" stroke-width="0.8"/>
<polyline fill="none" stroke="#7a5b81" stroke-width="1.5" points="237.30,239.60 248.20,233.40 259.10,239.60 270.00,253.30 280.90,275.60 291.80,302.60 302.70,326.50 313.60,337.00 324.50,328.30 335.40,308.90 346.30,287.00 358.60,263.00 369.50,246.00 379.00,233.70"/>
<circle cx="237.30" cy="239.60" r="6.15" fill="#7a5b81" stroke="#fff" stroke-width="0.8"/>
<circle cx="248.20" cy="233.40" r="6.15" fill="#7a5b81" stroke="#fff" stroke-width="0.8"/>
<circle cx="259.10" cy="239.60" r="6.15" fill="#7a5b81" stroke="#fff" stroke-width="0.8"/>
<circle cx="270.00" cy="253.30" r="6.15" fill="#7a5b81" stroke="#fff" stroke-width="0.8"/>
<circle cx="280.90" cy="275.60" r="6.15" fill="#7a5b81" stroke="#fff" stroke-width="0.8"/>
<circle cx="291.80" cy="302.60" r="6.15" fill="#7a5b81" stroke="#fff" stroke-width="0.8"/>
<circle cx="302.70" cy="326.50" r="6.15" fill="#7a5b81" stroke="#fff" stroke-width="0.8"/>
<circle cx="313.60" cy="337.00" r="6.15" fill="#7a5b81" stroke="#fff" stroke-width="0.8"/>
<circle cx="324.50" cy="328.30" r="6.15" fill="#7a5b81" stroke="#fff" stroke-width="0.8"/>
<circle cx="335.40" cy="308.90" r="6.15" fill="#7a5b81" stroke="#fff" stroke-width="0.8"/>
<circle cx="346.30" cy="287.00" r="6.15" fill="#7a5b81" stroke="#fff" stroke-width="0.8"/>
<circle cx="358.60" cy="263.00" r="6.15" fill="#7a5b81" stroke="#fff" stroke-width="0.8"/>
<circle cx="369.50" cy="246.00" r="6.15" fill="#7a5b81" stroke="#fff" stroke-width="0.8"/>
<circle cx="379.00" cy="233.70" r="6.15" fill="#7a5b81" stroke="#fff" stroke-width="0.8"/>
<polyline fill="none" stroke="#8b668f" stroke-width="1.5" points="271.40,239.60 282.33,233.40 293.26,238.70 304.19,252.60 315.12,271.50 326.05,289.20 336.98,291.90 347.91,278.80 358.84,262.00 369.77,244.90"/>
<rect x="265.55" y="233.75" width="11.7" height="11.7" fill="#8b668f" stroke="#fff" stroke-width="0.8"/>
<rect x="276.48" y="227.55" width="11.7" height="11.7" fill="#8b668f" stroke="#fff" stroke-width="0.8"/>
<rect x="287.41" y="232.85" width="11.7" height="11.7" fill="#8b668f" stroke="#fff" stroke-width="0.8"/>
<rect x="298.34" y="246.75" width="11.7" height="11.7" fill="#8b668f" stroke="#fff" stroke-width="0.8"/>
<rect x="309.27" y="265.65" width="11.7" height="11.7" fill="#8b668f" stroke="#fff" stroke-width="0.8"/>
<rect x="320.20" y="283.35" width="11.7" height="11.7" fill="#8b668f" stroke="#fff" stroke-width="0.8"/>
<rect x="331.13" y="286.05" width="11.7" height="11.7" fill="#8b668f" stroke="#fff" stroke-width="0.8"/>
<rect x="342.06" y="272.95" width="11.7" height="11.7" fill="#8b668f" stroke="#fff" stroke-width="0.8"/>
<rect x="352.99" y="256.15" width="11.7" height="11.7" fill="#8b668f" stroke="#fff" stroke-width="0.8"/>
<rect x="363.92" y="239.05" width="11.7" height="11.7" fill="#8b668f" stroke="#fff" stroke-width="0.8"/>
<rect x="690.4" y="64.2" width="28.450000000000045" height="419.2" fill="url(#cb)" stroke="#000" stroke-width="2.2"/>
<line x1="690.40" y1="169.00" x2="698.10" y2="169.00" stroke="#000" stroke-width="1.8"/>
<line x1="718.85" y1="169.00" x2="711.15" y2="169.00" stroke="#000" stroke-width="1.8"/>
<line x1="690.40" y1="273.80" x2="698.10" y2="273.80" stroke="#000" stroke-width="1.8"/>
<line x1="718.85" y1="273.80" x2="711.15" y2="273.80" stroke="#000" stroke-width="1.8"/>
<line x1="690.40" y1="378.60" x2="698.10" y2="378.60" stroke="#000" stroke-width="1.8"/>
<line x1="718.85" y1="378.60" x2="711.15" y2="378.60" stroke="#000" stroke-width="1.8"/>
<text transform="translate(132.97,517.20) scale(0.8392,1.0000)" font-size="30.8" fill="#000" stroke="#fff" stroke-width="0.38">1</text>
<text transform="translate(146.34,517.20) scale(0.9346,1.0000)" font-size="30.8" fill="#000" stroke="#fff" stroke-width="0.38">0</text>
<text transform="translate(161.01,508.60) scale(1.2280,1.0000)" font-size="21.7" fill="#000" stroke="#fff" stroke-width="0.1">−</text>
<text transform="translate(176.70,506.60) scale(0.9886,1.0000)" font-size="21.7" fill="#000" stroke="#fff" stroke-width="0.38">2</text>
<text transform="translate(264.98,517.20) scale(0.8392,1.0000)" font-size="30.8" fill="#000" stroke="#fff" stroke-width="0.38">1</text>
<text transform="translate(278.35,517.20) scale(0.9346,1.0000)" font-size="30.8" fill="#000" stroke="#fff" stroke-width="0.38">0</text>
<text transform="translate(292.21,506.60) scale(1.0112,1.0000)" font-size="21.7" fill="#000" stroke="#fff" stroke-width="0.38">0</text>
<text transform="translate(389.04,517.20) scale(0.8392,1.0000)" font-size="30.8" fill="#000" stroke="#fff" stroke-width="0.38">1</text>
<text transform="translate(402.41,517.20) scale(0.9346,1.0000)" font-size="30.8" fill="#000" stroke="#fff" stroke-width="0.38">0</text>
<text transform="translate(416.09,506.60) scale(1.0691,1.0000)" font-size="21.7" fill="#000" stroke="#fff" stroke-width="0.38">2</text>
<text transform="translate(513.10,517.20) scale(0.8392,1.0000)" font-size="30.8" fill="#000" stroke="#fff" stroke-width="0.38">1</text>
<text transform="translate(526.47,517.20) scale(0.9346,1.0000)" font-size="30.8" fill="#000" stroke="#fff" stroke-width="0.38">0</text>
<text transform="translate(540.78,506.60) scale(0.9220,1.0000)" font-size="21.7" fill="#000" stroke="#fff" stroke-width="0.38">4</text>
<text transform="translate(637.16,517.20) scale(0.8392,1.0000)" font-size="30.8" fill="#000" stroke="#fff" stroke-width="0.38">1</text>
<text transform="translate(650.53,517.20) scale(0.9346,1.0000)" font-size="30.8" fill="#000" stroke="#fff" stroke-width="0.38">0</text>
<text transform="translate(664.29,506.60) scale(1.0031,1.0000)" font-size="21.7" fill="#000" stroke="#fff" stroke-width="0.38">6</text>
<text transform="translate(90.13,57.70) scale(0.8392,1.0000)" font-size="30.8" fill="#000" stroke="#fff" stroke-width="0.38">1</text>
<text transform="translate(103.50,57.70) scale(0.9346,1.0000)" font-size="30.8" fill="#000" stroke="#fff" stroke-width="0.38">0</text>
<text transform="translate(117.36,47.10) scale(1.0112,1.0000)" font-size="21.7" fill="#000" stroke="#fff" stroke-width="0.38">0</text>
<text transform="translate(495.43,57.70) scale(0.8392,1.0000)" font-size="30.8" fill="#000" stroke="#fff" stroke-width="0.38">1</text>
<text transform="translate(508.80,57.70) scale(0.9346,1.0000)" font-size="30.8" fill="#000" stroke="#fff" stroke-width="0.38">0</text>
<text transform="translate(523.53,47.10) scale(0.8770,1.0000)" font-size="21.7" fill="#000" stroke="#fff" stroke-width="0.38">1</text>
<text transform="translate(44.63,97.20) scale(0.8392,1.0000)" font-size="30.8" fill="#000" stroke="#fff" stroke-width="0.38">1</text>
<text transform="translate(58.00,97.20) scale(0.9346,1.0000)" font-size="30.8" fill="#000" stroke="#fff" stroke-width="0.38">0</text>
<text transform="translate(72.67,88.60) scale(1.2280,1.0000)" font-size="21.7" fill="#000" stroke="#fff" stroke-width="0.1">−</text>
<text transform="translate(88.36,86.60) scale(0.9886,1.0000)" font-size="21.7" fill="#000" stroke="#fff" stroke-width="0.38">2</text>
<text transform="translate(44.63,229.20) scale(0.8392,1.0000)" font-size="30.8" fill="#000" stroke="#fff" stroke-width="0.38">1</text>
<text transform="translate(58.00,229.20) scale(0.9346,1.0000)" font-size="30.8" fill="#000" stroke="#fff" stroke-width="0.38">0</text>
<text transform="translate(72.67,220.60) scale(1.2280,1.0000)" font-size="21.7" fill="#000" stroke="#fff" stroke-width="0.1">−</text>
<text transform="translate(88.30,218.60) scale(0.9594,1.0000)" font-size="21.7" fill="#000" stroke="#fff" stroke-width="0.38">3</text>
<text transform="translate(44.63,361.20) scale(0.8392,1.0000)" font-size="30.8" fill="#000" stroke="#fff" stroke-width="0.38">1</text>
<text transform="translate(58.00,361.20) scale(0.9346,1.0000)" font-size="30.8" fill="#000" stroke="#fff" stroke-width="0.38">0</text>
<text transform="translate(72.67,352.60) scale(1.2280,1.0000)" font-size="21.7" fill="#000" stroke="#fff" stroke-width="0.1">−</text>
<text transform="translate(88.94,350.60) scale(0.8526,1.0000)" font-size="21.7" fill="#000" stroke="#fff" stroke-width="0.38">4</text>
<text transform="translate(44.63,493.20) scale(0.8392,1.0000)" font-size="30.8" fill="#000" stroke="#fff" stroke-width="0.38">1</text>
<text transform="translate(58.00,493.20) scale(0.9346,1.0000)" font-size="30.8" fill="#000" stroke="#fff" stroke-width="0.38">0</text>
<text transform="translate(72.67,484.60) scale(1.2280,1.0000)" font-size="21.7" fill="#000" stroke="#fff" stroke-width="0.1">−</text>
<text transform="translate(88.06,482.60) scale(0.9838,1.0000)" font-size="21.7" fill="#000" stroke="#fff" stroke-width="0.38">5</text>
<text transform="translate(136.33,224.80) scale(0.8503,1.0000)" font-size="30.4" fill="#000" stroke="#e4dfff" stroke-width="0.38">1</text>
<text transform="translate(149.70,224.80) scale(0.9469,1.0000)" font-size="30.4" fill="#000" stroke="#e4dfff" stroke-width="0.38">0</text>
<text transform="translate(163.56,214.20) scale(1.0254,1.0000)" font-size="21.4" fill="#000" stroke="#e4dfff" stroke-width="0.38">0</text>
<text transform="translate(120.23,320.70) scale(0.8447,1.0000)" font-size="30.6" fill="#000" stroke="#e4dfff" stroke-width="0.38">1</text>
<text transform="translate(133.60,320.70) scale(0.9407,1.0000)" font-size="30.6" fill="#000" stroke="#e4dfff" stroke-width="0.38">0</text>
<text transform="translate(148.27,312.00) scale(1.2452,1.0000)" font-size="21.4" fill="#000" stroke="#e4dfff" stroke-width="0.1">−</text>
<text transform="translate(164.33,309.90) scale(0.8893,1.0000)" font-size="21.4" fill="#000" stroke="#e4dfff" stroke-width="0.38">1</text>
<text transform="translate(120.23,416.50) scale(0.8503,1.0000)" font-size="30.4" fill="#000" stroke="#e4dfff" stroke-width="0.38">1</text>
<text transform="translate(133.60,416.50) scale(0.9469,1.0000)" font-size="30.4" fill="#000" stroke="#e4dfff" stroke-width="0.38">0</text>
<text transform="translate(148.27,407.80) scale(1.2452,1.0000)" font-size="21.4" fill="#000" stroke="#e4dfff" stroke-width="0.1">−</text>
<text transform="translate(163.96,405.90) scale(1.0025,1.0000)" font-size="21.4" fill="#000" stroke="#e4dfff" stroke-width="0.38">2</text>
<text transform="translate(171.33,450.00) scale(0.8503,1.0000)" font-size="30.4" fill="#000" stroke="#e4dfff" stroke-width="0.38">1</text>
<text transform="translate(184.70,450.00) scale(0.9469,1.0000)" font-size="30.4" fill="#000" stroke="#e4dfff" stroke-width="0.38">0</text>
<text transform="translate(199.37,441.30) scale(1.2452,1.0000)" font-size="21.4" fill="#000" stroke="#e4dfff" stroke-width="0.1">−</text>
<text transform="translate(215.06,439.40) scale(1.0025,1.0000)" font-size="21.4" fill="#000" stroke="#e4dfff" stroke-width="0.38">2</text>
<text transform="translate(252.13,450.00) scale(0.8503,1.0000)" font-size="30.4" fill="#000" stroke="#e4dfff" stroke-width="0.38">1</text>
<text transform="translate(265.50,450.00) scale(0.9469,1.0000)" font-size="30.4" fill="#000" stroke="#e4dfff" stroke-width="0.38">0</text>
<text transform="translate(279.36,439.40) scale(1.0254,1.0000)" font-size="21.4" fill="#000" stroke="#e4dfff" stroke-width="0.38">0</text>
<text transform="translate(324.33,450.00) scale(0.8503,1.0000)" font-size="30.4" fill="#000" stroke="#e4dfff" stroke-width="0.38">1</text>
<text transform="translate(337.70,450.00) scale(0.9469,1.0000)" font-size="30.4" fill="#000" stroke="#e4dfff" stroke-width="0.38">0</text>
<text transform="translate(351.38,439.40) scale(1.0841,1.0000)" font-size="21.4" fill="#000" stroke="#e4dfff" stroke-width="0.38">2</text>
<text transform="translate(396.33,450.00) scale(0.8503,1.0000)" font-size="30.4" fill="#000" stroke="#e4dfff" stroke-width="0.38">1</text>
<text transform="translate(409.70,450.00) scale(0.9469,1.0000)" font-size="30.4" fill="#000" stroke="#e4dfff" stroke-width="0.38">0</text>
<text transform="translate(424.01,439.40) scale(0.9349,1.0000)" font-size="21.4" fill="#000" stroke="#e4dfff" stroke-width="0.38">4</text>
<text transform="translate(329.67,23.46) scale(0.8566,1.1029)" font-size="30" fill="#000" stroke="#fff" stroke-width="0.62">(</text>
<text transform="translate(339.05,22.90) scale(0.9203,1.0000)" font-size="30" fill="#000" stroke="#fff" stroke-width="0.38">log</text>
<text transform="translate(374.68,29.60) scale(0.9978,1.0000)" font-size="21" fill="#000" stroke="#fff" stroke-width="0.38">2</text>
<text transform="translate(391.45,22.90) scale(1.1424,1.0436)" font-size="30" font-style="italic" fill="#000" stroke="#fff" stroke-width="0.38">N</text>
<text transform="translate(416.91,23.46) scale(0.9215,1.1029)" font-size="30" fill="#000" stroke="#fff" stroke-width="0.62">)</text>
<text transform="translate(429.20,30.06) scale(1.3677,1.4949)" font-size="30" fill="#000" stroke="#fff" stroke-width="0.7">/</text>
<text transform="translate(442.43,23.74) scale(1.0418,0.9943)" font-size="30" font-style="italic" fill="#000" stroke="#fff" stroke-width="0.38">ξ</text>
<text transform="translate(364.94,554.90) scale(1.1147,1.0640)" font-size="30" font-style="italic" fill="#000" stroke="#fff" stroke-width="0.38">N</text>
<text transform="translate(389.60,561.57) scale(1.3437,1.4799)" font-size="30" fill="#000" stroke="#fff" stroke-width="0.7">/</text>
<text transform="translate(403.76,554.90) scale(0.8084,1.0553)" font-size="30" fill="#000" stroke="#fff" stroke-width="0.38">Λ</text>
<text transform="translate(737.74,71.10) scale(0.9375,1.0000)" font-size="30.6" fill="#000" stroke="#fff" stroke-width="0.38">2</text>
<text transform="translate(751.99,71.10) scale(0.9956,1.0000)" font-size="30.6" fill="#000" stroke="#fff" stroke-width="0.38">.</text>
<text transform="translate(759.76,71.10) scale(0.9069,1.0000)" font-size="30.6" fill="#000" stroke="#fff" stroke-width="0.38">4</text>
<text transform="translate(737.62,176.00) scale(0.9538,1.0000)" font-size="30.6" fill="#000" stroke="#fff" stroke-width="0.38">2</text>
<text transform="translate(736.13,280.70) scale(1.0675,1.0000)" font-size="30.6" fill="#000" stroke="#fff" stroke-width="0.38">1</text>
<text transform="translate(751.99,280.70) scale(0.9956,1.0000)" font-size="30.6" fill="#000" stroke="#fff" stroke-width="0.38">.</text>
<text transform="translate(759.00,280.70) scale(0.9867,1.0000)" font-size="30.6" fill="#000" stroke="#fff" stroke-width="0.38">6</text>
<text transform="translate(736.13,385.40) scale(1.0675,1.0000)" font-size="30.6" fill="#000" stroke="#fff" stroke-width="0.38">1</text>
<text transform="translate(751.99,385.40) scale(0.9956,1.0000)" font-size="30.6" fill="#000" stroke="#fff" stroke-width="0.38">.</text>
<text transform="translate(758.89,385.40) scale(1.0516,1.0000)" font-size="30.6" fill="#000" stroke="#fff" stroke-width="0.38">2</text>
<text transform="translate(737.97,490.20) scale(0.8867,1.0000)" font-size="30.6" fill="#000" stroke="#fff" stroke-width="0.38">0</text>
<text transform="translate(751.99,490.20) scale(0.9956,1.0000)" font-size="30.6" fill="#000" stroke="#fff" stroke-width="0.38">.</text>
<text transform="translate(759.14,490.20) scale(0.9947,1.0000)" font-size="30.6" fill="#000" stroke="#fff" stroke-width="0.38">8</text>
<text transform="translate(755.52,127.60) scale(1.1510,1.0334)" font-size="30" font-style="italic" fill="#000" stroke="#fff" stroke-width="0.38">W</text>
<text transform="translate(116.94,258.60) scale(0.9706,0.9223)" font-size="30" font-style="italic" fill="#000" stroke="#e4dfff" stroke-width="0.38">π</text>
<text transform="translate(120.21,259.16) scale(1.0851,0.9380)" font-size="30" fill="#000" stroke="#e4dfff" stroke-width="0.38">˜</text>
<text transform="translate(132.80,263.60) scale(1.0810,1.0000)" font-size="21" fill="#000" stroke="#e4dfff" stroke-width="0.38">2</text>
<text transform="translate(282.99,471.80) scale(0.8267,1.0000)" font-size="30" font-style="italic" fill="#000" stroke="#e4dfff" stroke-width="0.38">ℓ</text>
<text transform="translate(296.80,478.47) scale(1.3797,1.4600)" font-size="30" fill="#000" stroke="#e4dfff" stroke-width="0.7">/</text>
<text transform="translate(311.82,471.80) scale(1.1172,1.0000)" font-size="30" font-style="italic" fill="#000" stroke="#e4dfff" stroke-width="0.38">λ</text>
<g transform="rotate(-90)">
<text transform="translate(-359.08,27.80) scale(1.1172,1.0000)" font-size="30" font-style="italic" fill="#000" stroke="#fff" stroke-width="0.38">λ</text>
<text transform="translate(-343.40,34.56) scale(1.5117,1.4949)" font-size="30" fill="#000" stroke="#fff" stroke-width="0.7">/</text>
<text transform="translate(-328.39,27.96) scale(1.1291,1.1029)" font-size="30" fill="#000" stroke="#fff" stroke-width="0.62">(</text>
<text transform="translate(-316.95,27.80) scale(1.1193,1.0385)" font-size="30" font-style="italic" fill="#000" stroke="#fff" stroke-width="0.38">N</text>
<text transform="translate(-292.00,34.56) scale(1.5117,1.4949)" font-size="30" fill="#000" stroke="#fff" stroke-width="0.7">/</text>
<text transform="translate(-274.77,27.80) scale(0.9526,1.0000)" font-size="30" fill="#000" stroke="#fff" stroke-width="0.38">log</text>
<text transform="translate(-239.12,34.70) scale(0.9978,1.0000)" font-size="21" fill="#000" stroke="#fff" stroke-width="0.38">2</text>
<text transform="translate(-220.75,27.80) scale(1.1193,1.0385)" font-size="30" font-style="italic" fill="#000" stroke="#fff" stroke-width="0.38">N</text>
<text transform="translate(-196.05,27.96) scale(0.9864,1.1029)" font-size="30" fill="#000" stroke="#fff" stroke-width="0.62">)</text>
</g>
</svg>
</body></html>
